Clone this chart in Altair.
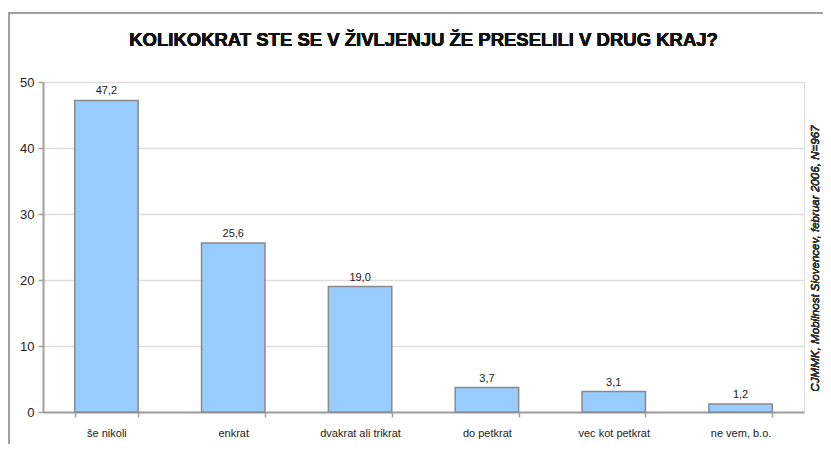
import altair as alt
import pandas as pd

categories = ["še nikoli", "enkrat", "dvakrat ali trikrat", "do petkrat", "vec kot petkrat", "ne vem, b.o."]
values = [47.2, 25.6, 19.0, 3.7, 3.1, 1.2]
labels = ["47,2", "25,6", "19,0", "3,7", "3,1", "1,2"]
y_ticks = [0, 10, 20, 30, 40, 50]
title_text = "KOLIKOKRAT STE SE V ŽIVLJENJU ŽE PRESELILI V DRUG KRAJ?"
source_text = "CJMMK, Mobilnost Slovencev, februar 2006, N=967"

df = pd.DataFrame({"cat": categories, "val": values, "lab": labels})

W, H = 761, 330

x_enc = alt.X("cat:N", sort=categories,
              scale=alt.Scale(paddingInner=0.5, paddingOuter=0.25),
              axis=alt.Axis(title=None, labelAngle=0, labelFontSize=11, labelColor="#222",
                            labelFont="Liberation Sans", labelPadding=10,
                            domainColor="#a0a0a0", domainWidth=2, tickColor="#a0a0a0",
                            tickWidth=1.5, tickSize=5, tickBand="extent", grid=False))
y_enc = alt.Y("val:Q", scale=alt.Scale(domain=[0, 50], nice=False),
              axis=alt.Axis(title=None, values=y_ticks, labelFontSize=13, labelColor="#222",
                            labelFont="Liberation Sans", labelPadding=4,
                            domainColor="#a0a0a0", domainWidth=2, tickColor="#a0a0a0",
                            tickWidth=1.5, tickSize=5, gridColor="#dddddd", gridWidth=1.5))

bars = alt.Chart(df).mark_bar(color="#99ccff", stroke="#8a8a8a", strokeWidth=1.5).encode(
    x=x_enc, y=y_enc)

text = alt.Chart(df).mark_text(dy=-9, fontSize=11, font="Liberation Sans", color="#222").encode(
    x=alt.X("cat:N", sort=categories), y="val:Q", text="lab:N")

frame = alt.Chart(df).mark_rect(fill=None, stroke="#a0a0a0", strokeWidth=2, clip=False).encode(
    x=alt.value(-34), x2=alt.value(900), y=alt.value(-69), y2=alt.value(600))

title = alt.Chart(df).mark_text(fontSize=18.5, font="Liberation Sans", fontWeight="bold",
                                color="#111", baseline="alphabetic", clip=False).encode(
    x=alt.value(W / 2), y=alt.value(-36), text=alt.value(title_text))

source = alt.Chart(df).mark_text(angle=270, fontSize=11.6, fontStyle="italic", fontWeight="normal",
                                 font="Liberation Sans", color="#333", clip=False).encode(
    x=alt.value(773), y=alt.value(176.5), text=alt.value(source_text))

chart = alt.layer(frame, bars, text, title, source).properties(
    width=W, height=H,
    autosize=alt.AutoSizeParams(type="none"),
    padding={"left": 35, "top": 74, "right": 19, "bottom": 32},
).configure_view(stroke="#dddddd", strokeWidth=1.5).configure(background="white")

chart.save("out.html", embed_options={"renderer": "svg", "actions": False})
